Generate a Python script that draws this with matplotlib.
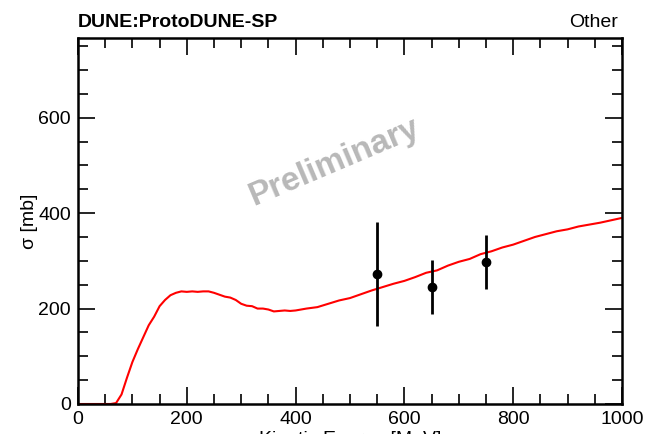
import matplotlib.pyplot as plt
from matplotlib.ticker import MultipleLocator

plt.rcParams['font.family'] = ['Liberation Sans', 'DejaVu Sans']

# simulated cross section (red curve)
energy = [0, 20, 40, 60, 70, 80, 90, 100, 110, 120, 130, 140, 150, 160, 170, 180, 190,
          200, 210, 220, 230, 240, 250, 260, 270, 280, 290, 300, 310, 320, 330, 340,
          350, 360, 370, 380, 390, 400, 420, 440, 460, 480, 500, 520, 540, 560, 580,
          600, 620, 640, 660, 680, 700, 720, 740, 760, 780, 800, 820, 840, 860, 880,
          900, 920, 940, 960, 980, 1000]
sigma = [0, 0, 0, 0, 2, 20, 55, 88, 115, 140, 165, 183, 205, 218, 228, 233, 236,
         235, 236, 235, 236, 236, 233, 229, 225, 223, 218, 210, 206, 205, 200, 200,
         198, 194, 195, 196, 195, 196, 200, 203, 210, 217, 222, 230, 238, 245, 252,
         258, 266, 275, 280, 290, 298, 304, 314, 320, 328, 334, 342, 350, 356, 362,
         366, 372, 376, 380, 385, 390]

# measured points
data_e = [550, 650, 750]
data_sigma = [272, 245, 297]
data_err = [109, 56, 57]

fig = plt.figure(figsize=(6.45, 4.34), dpi=100)
ax = fig.add_axes([78 / 645, 1 - 404 / 434, 544 / 645, 366 / 434])

ax.plot(energy, sigma, color='red', lw=1.5, zorder=2)
ax.errorbar(data_e, data_sigma, yerr=data_err, fmt='o', color='black',
            ms=6, elinewidth=2, capsize=0, zorder=3)

ax.set_xlim(0, 1000)
ax.set_ylim(0, 767)
ax.xaxis.set_major_locator(MultipleLocator(200))
ax.xaxis.set_minor_locator(MultipleLocator(50))
ax.yaxis.set_major_locator(MultipleLocator(200))
ax.yaxis.set_minor_locator(MultipleLocator(50))
ax.tick_params(which='both', direction='in', top=True, right=True,
               labelsize=14, width=1.2, pad=5)
ax.tick_params(which='major', length=12)
ax.tick_params(which='minor', length=7)
for s in ax.spines.values():
    s.set_linewidth(1.8)

ax.set_xlabel('Kinetic Energy [MeV]', fontsize=14, labelpad=2)
ax.set_ylabel('σ [mb]', fontsize=14, labelpad=0)

fig.text(78 / 645, 1 - 27 / 434, 'DUNE:ProtoDUNE-SP', fontsize=14,
         fontweight='bold', ha='left', va='baseline')
fig.text(618 / 645, 1 - 27 / 434, 'Other', fontsize=14, ha='right', va='baseline')

ax.text(0.472, 0.66, 'Preliminary', transform=ax.transAxes, fontsize=24,
        fontweight='bold', color='#b8b8b8', rotation=23,
        ha='center', va='center', zorder=1)

fig.savefig('out.png', dpi=100)
